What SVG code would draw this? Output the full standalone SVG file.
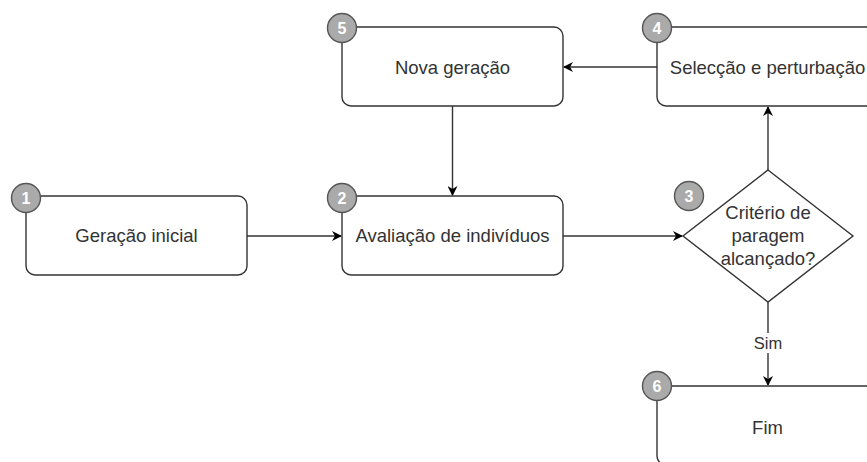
<svg xmlns="http://www.w3.org/2000/svg" width="867" height="462" viewBox="0 0 867 462">
<style>
.box{fill:#fff;stroke:#333;stroke-width:1.4}
.lbl{font-family:"Liberation Sans",Arial,sans-serif;font-size:18.5px;fill:#333;text-anchor:middle}
.num circle{fill:#aaa;stroke:#555;stroke-width:1.4}
.num text{font-family:"Liberation Sans",Arial,sans-serif;font-size:16px;font-weight:bold;fill:#fff;text-anchor:middle}
.edge{fill:none;stroke:#333;stroke-width:1.4;marker-end:url(#arr)}
</style>
<defs>
<marker id="arr" viewBox="0 0 10 10" refX="9" refY="5" markerWidth="10" markerHeight="10" markerUnits="userSpaceOnUse" orient="auto">
<path d="M0,0 L10,5 L0,10 L3,5 Z" fill="#000"/>
</marker>
</defs>
<rect width="867" height="462" fill="#fff"/>
<g id="connectors">
<line class="edge" x1="247" y1="236" x2="341" y2="236"/>
<line class="edge" x1="563" y1="236" x2="682" y2="236"/>
<line class="edge" x1="768" y1="170" x2="768" y2="107"/>
<line class="edge" x1="657" y1="67" x2="564" y2="67"/>
<line class="edge" x1="452.5" y1="106" x2="452.5" y2="195"/>
<line class="edge" x1="768" y1="302" x2="768" y2="385"/>
<rect x="750" y="333" width="36" height="20" fill="#fff"/>
<text class="lbl" x="768" y="349" style="font-size:16.5px">Sim</text>
</g>
<g id="n1">
<rect class="box" x="26" y="196" width="221" height="79" rx="9"/>
<text class="lbl" x="136.5" y="242">Geração inicial</text>
<g class="num"><circle cx="26" cy="198" r="14.5"/><text x="26" y="204">1</text></g>
</g>
<g id="n2">
<rect class="box" x="342" y="196" width="221" height="79" rx="9"/>
<text class="lbl" x="452.5" y="242">Avaliação de indivíduos</text>
<g class="num"><circle cx="342" cy="198" r="14.5"/><text x="342" y="204">2</text></g>
</g>
<g id="n5">
<rect class="box" x="342" y="27" width="221" height="79" rx="9"/>
<text class="lbl" x="452.5" y="74">Nova geração</text>
<g class="num"><circle cx="342" cy="28" r="14.5"/><text x="342" y="34">5</text></g>
</g>
<g id="n4">
<rect class="box" x="657" y="27" width="221" height="79" rx="9"/>
<text class="lbl" x="767.5" y="74">Selecção e perturbação</text>
<g class="num"><circle cx="657" cy="28" r="14.5"/><text x="657" y="34">4</text></g>
</g>
<g id="n3">
<path class="box" d="M768,170 L853,236 L768,302 L683,236 Z"/>
<text class="lbl" x="768" y="219">Critério de</text>
<text class="lbl" x="768" y="242">paragem</text>
<text class="lbl" x="768" y="265">alcançado?</text>
<g class="num"><circle cx="689" cy="196" r="14.5"/><text x="689" y="202">3</text></g>
</g>
<g id="n6">
<rect class="box" x="657" y="386" width="221" height="79" rx="9"/>
<text class="lbl" x="767.5" y="434">Fim</text>
<g class="num"><circle cx="657" cy="386" r="14.5"/><text x="657" y="392">6</text></g>
</g>
</svg>
